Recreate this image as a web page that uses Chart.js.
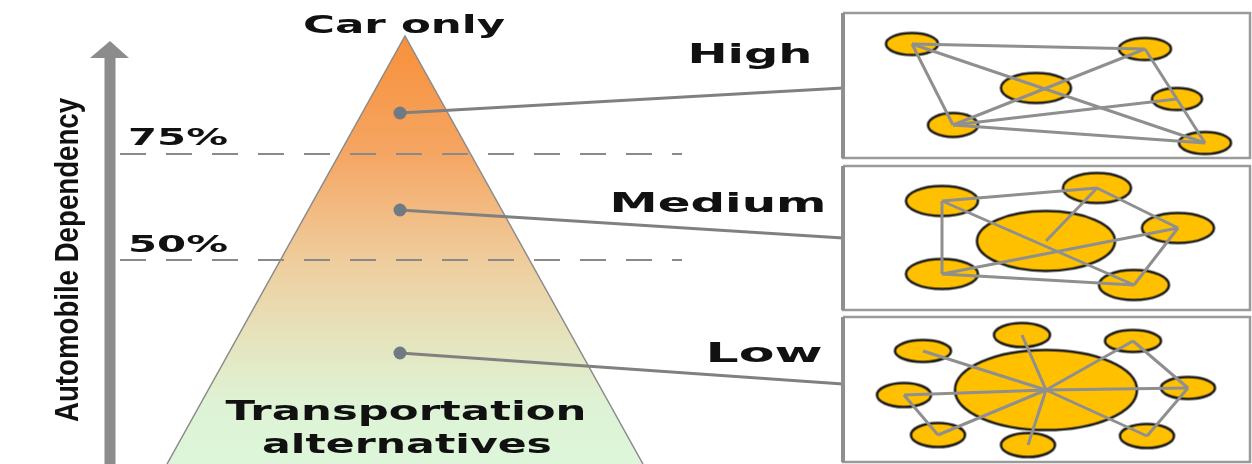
<!DOCTYPE html>
<html lang="en">
<head>
<meta charset="UTF-8">
<title>Automobile Dependency</title>
<script src="https://cdn.jsdelivr.net/npm/chart.js"></script>
<style>
    html, body { margin: 0; padding: 0; background: #fff; }
    #chart { display: block; }
</style>
</head>
<body>
<canvas id="chart" width="1252" height="464"></canvas>
<script>
// pyramid (dependency scale) – x/y in diagram units, y grows downwards
const pyramidX = [167, 405, 643];
const pyramidY = [464, 36, 464];
const thresholdLabels = ['75%', '50%'];
const thresholdY = [154, 260];
const thresholdX = [120, 682];

// vertical axis arrow
const arrowX = [110, 110];
const arrowY = [464, 56];
const arrowHeadX = [90, 110, 129];
const arrowHeadY = [58, 41, 58];

// the three dependency levels, marker on the pyramid and link to its network box
const levels = ['High', 'Medium', 'Low'];
const markerX = [400, 400, 400];
const markerY = [113, 210, 353];
const linkEndY = [88, 238, 384];
const boxLeft = 843;
const boxRight = 1250;
const boxTop = [13, 166, 317];
const boxBottom = [158, 310, 462];

// network in the "High" box
const highX = [912, 1145, 1036, 1177, 953, 1205];
const highY = [44, 49, 88, 99, 125, 143];
const highRx = [26, 26, 35, 25, 25, 26];
const highRy = [11, 11, 15, 11, 12, 11];
const highEdges = [[0, 1], [0, 4], [0, 5], [4, 1], [4, 3], [4, 5], [1, 5]];

// network in the "Medium" box
const mediumX = [1046, 942, 1097, 1178, 1134, 942];
const mediumY = [241, 201, 188, 228, 285, 274];
const mediumRx = [69, 36, 34, 36, 35, 36];
const mediumRy = [30, 15, 15, 15, 15, 15];
const mediumEdges = [[1, 2], [2, 3], [3, 4], [4, 5], [5, 1], [1, 4], [5, 3], [0, 2]];

// network in the "Low" box
const lowX = [1046, 1022, 923, 1133, 904, 1188, 938, 1028, 1147];
const lowY = [390, 335, 351, 341, 395, 388, 435, 445, 436];
const lowRx = [91, 28, 28, 28, 27, 27, 27, 27, 27];
const lowRy = [40, 12, 11, 11, 12, 11, 12, 12, 12];
const lowEdges = [[0, 1], [0, 2], [0, 3], [0, 4], [0, 5], [0, 6], [0, 7], [0, 8], [4, 6], [3, 5], [5, 8]];

// text labels
const labelText = ['Car only', 'High', 'Medium', 'Low', '75%', '50%', 'Transportation', 'alternatives', 'Automobile Dependency'];
const labelX = [404, 750, 718, 764, 178, 178, 406, 407, 78];
const labelY = [33, 63, 212, 362, 145, 252, 420, 453, 260];
const labelSize = [25, 27, 26, 26, 23, 23, 27, 27, 34];
const labelWidth = [202, 125, 217, 117, 100, 100, 361, 290, 324];
const labelAngle = [0, 0, 0, 0, 0, 0, 0, 0, -90];

const GREY = '#8c8c8c';

function pts(xs, ys) {
    return xs.map((x, i) => ({ x: x, y: ys[i] }));
}

function lineSet(data, color, width, extra) {
    return Object.assign({
        data: data,
        showLine: true,
        borderColor: color,
        borderWidth: width,
        pointRadius: 0,
        tension: 0,
        fill: false,
        clip: false
    }, extra || {});
}

function pyramidFill(context) {
    const chart = context.chart;
    if (!chart.chartArea) return null;
    const top = chart.scales.y.getPixelForValue(pyramidY[1]);
    const bottom = chart.scales.y.getPixelForValue(pyramidY[0]);
    const g = chart.ctx.createLinearGradient(0, top, 0, bottom);
    g.addColorStop(0, '#f8903a');
    g.addColorStop(0.27, '#f5a562');
    g.addColorStop(0.52, '#efcc9c');
    g.addColorStop(0.70, '#e6e3bc');
    g.addColorStop(0.86, '#def3d5');
    g.addColorStop(1, '#ddf6d9');
    return g;
}

function ellipseImage(rx, ry) {
    const c = document.createElement('canvas');
    c.width = Math.ceil(rx * 2 + 5);
    c.height = Math.ceil(ry * 2 + 5);
    const g = c.getContext('2d');
    g.beginPath();
    g.ellipse(c.width / 2, c.height / 2, rx, ry, 0, 0, Math.PI * 2);
    g.fillStyle = '#ffc000';
    g.fill();
    g.lineWidth = 2.5;
    g.strokeStyle = '#1b1b1b';
    g.stroke();
    return c;
}

const layers = [];

// arrow
layers.push(lineSet(pts(arrowX, arrowY), GREY, 11));
layers.push(lineSet(pts(arrowHeadX, arrowHeadY), GREY, 0, {
    fill: { value: arrowHeadY[0] }, backgroundColor: GREY
}));

// pyramid
layers.push(lineSet(pts(pyramidX, pyramidY), '#8a8a8a', 1.5, {
    fill: { value: pyramidY[0] }, backgroundColor: pyramidFill
}));

// threshold dashes
thresholdY.forEach(y => {
    layers.push(lineSet(pts(thresholdX, [y, y]), '#8a8a8a', 2, { borderDash: [26, 20] }));
});

// links from pyramid to boxes
levels.forEach((lv, i) => {
    layers.push(lineSet(pts([markerX[i], boxLeft], [markerY[i], linkEndY[i]]), '#808080', 3));
});
layers.push({
    data: pts(markerX, markerY),
    pointRadius: 6.5,
    pointBackgroundColor: '#6f7a83',
    pointBorderWidth: 0,
    clip: false
});

// boxes
levels.forEach((lv, i) => {
    layers.push(lineSet(pts([boxLeft, boxRight, boxRight, boxLeft, boxLeft],
        [boxTop[i], boxTop[i], boxBottom[i], boxBottom[i], boxTop[i]]), '#9a9a9a', 2.5));
    layers.push(lineSet(pts([boxLeft, boxLeft], [boxTop[i], boxBottom[i]]), '#8f8f8f', 4));
});

// networks
[[highX, highY, highRx, highRy, highEdges],
 [mediumX, mediumY, mediumRx, mediumRy, mediumEdges],
 [lowX, lowY, lowRx, lowRy, lowEdges]].forEach(net => {
    const [xs, ys, rxs, rys, edges] = net;
    layers.push({
        data: pts(xs, ys),
        pointStyle: rxs.map((rx, i) => ellipseImage(rx, rys[i])),
        pointRadius: rxs.slice(),
        clip: false
    });
    edges.forEach(e => {
        layers.push(lineSet(pts([xs[e[0]], xs[e[1]]], [ys[e[0]], ys[e[1]]]), '#8f8f8f', 3));
    });
});

const labelPlugin = {
    id: 'diagramLabels',
    afterDraw(chart) {
        const { ctx, scales } = chart;
        labelText.forEach((t, i) => {
            const x = scales.x.getPixelForValue(labelX[i]);
            const y = scales.y.getPixelForValue(labelY[i]);
            ctx.save();
            ctx.font = labelAngle[i]
                ? 'bold ' + labelSize[i] + 'px "Liberation Sans", Arial, sans-serif'
                : 'bold ' + labelSize[i] + 'px "DejaVu Sans", Verdana, sans-serif';
            ctx.fillStyle = '#111';
            ctx.textAlign = 'center';
            ctx.textBaseline = 'alphabetic';
            const w = ctx.measureText(t).width;
            ctx.translate(x, y);
            if (labelAngle[i]) ctx.rotate(labelAngle[i] * Math.PI / 180);
            ctx.scale(labelWidth[i] / w, 1);
            ctx.fillText(t, 0, 0);
            ctx.restore();
        });
    }
};

new Chart(document.getElementById('chart'), {
    type: 'scatter',
    data: { datasets: layers.reverse() },
    options: {
        responsive: false,
        animation: false,
        events: [],
        layout: { padding: 0, autoPadding: false },
        scales: {
            x: { type: 'linear', min: 0, max: 1252, display: false },
            y: { type: 'linear', min: 0, max: 464, reverse: true, display: false }
        },
        plugins: {
            legend: { display: false },
            tooltip: { enabled: false }
        }
    },
    plugins: [labelPlugin]
});
</script>
</body>
</html>
